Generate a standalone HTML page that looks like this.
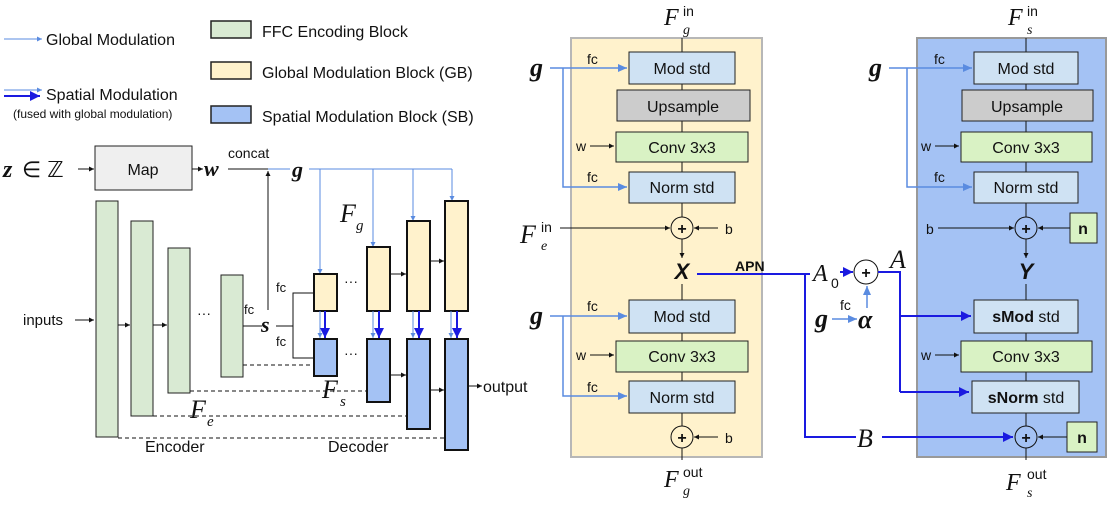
<!DOCTYPE html>
<html><head><meta charset="utf-8"><style>
body{margin:0;background:#fff}
svg{display:block}
text{font-family:"Liberation Sans",sans-serif;fill:#111}
.m{font-family:"Liberation Serif",serif;font-style:italic}
</style></head><body>
<svg width="1109" height="506" viewBox="0 0 1109 506" xmlns="http://www.w3.org/2000/svg">
<defs>
<marker id="ak" markerWidth="6" markerHeight="6" refX="5" refY="3" orient="auto" markerUnits="userSpaceOnUse"><path d="M0,0.5 L5,3 L0,5.5z" fill="#111"/></marker>
<marker id="ab" markerWidth="10" markerHeight="10" refX="9" refY="5" orient="auto" markerUnits="userSpaceOnUse"><path d="M0,1 L9,5 L0,9z" fill="#5a8be0"/></marker>
<marker id="ad" markerWidth="12" markerHeight="12" refX="10" refY="6" orient="auto" markerUnits="userSpaceOnUse"><path d="M0,1 L10,6 L0,11z" fill="#1a1ae0"/></marker>
<marker id="as" markerWidth="6" markerHeight="6" refX="5" refY="3" orient="auto" markerUnits="userSpaceOnUse"><path d="M0,0.5 L5,3 L0,5.5z" fill="#5a8be0"/></marker>
</defs>

<!-- Legend -->
<line x1="4" y1="39" x2="42" y2="39" stroke="#5a8be0" stroke-width="1" marker-end="url(#as)"/>
<text x="46" y="45" font-size="16">Global Modulation</text>
<line x1="4" y1="90" x2="42" y2="90" stroke="#5a8be0" stroke-width="1" marker-end="url(#as)"/>
<line x1="4" y1="96" x2="40" y2="96" stroke="#1a1ae0" stroke-width="2" marker-end="url(#ad)"/>
<text x="46" y="100" font-size="16">Spatial Modulation</text>
<text x="13" y="118" font-size="12">(fused with global modulation)</text>
<rect x="211" y="21" width="40" height="17" fill="#d9ead3" stroke="#222" stroke-width="1.5"/>
<text x="262" y="37" font-size="16">FFC Encoding Block</text>
<rect x="211" y="62" width="40" height="17" fill="#fff2cc" stroke="#222" stroke-width="1.5"/>
<text x="262" y="78" font-size="16">Global Modulation Block (GB)</text>
<rect x="211" y="106" width="40" height="17" fill="#a4c2f4" stroke="#222" stroke-width="1.5"/>
<text x="262" y="122" font-size="16">Spatial Modulation Block (SB)</text>

<!-- Left overview -->
<text x="3" y="177" font-size="24" class="m" font-weight="bold">z</text>
<text x="22" y="177" font-size="22">∈ ℤ</text>
<line x1="78" y1="169" x2="94" y2="169" stroke="#111" marker-end="url(#ak)"/>
<rect x="95" y="146" width="97" height="44" fill="#efefef" stroke="#222"/>
<text x="143" y="175" font-size="16" text-anchor="middle">Map</text>
<line x1="192" y1="169" x2="203" y2="169" stroke="#111" marker-end="url(#ak)"/>
<text x="204" y="176" font-size="22" class="m" font-weight="bold">w</text>
<line x1="228" y1="169" x2="268" y2="169" stroke="#111"/>
<line x1="268" y1="169" x2="290" y2="169" stroke="#5a8be0"/>
<text x="228" y="158" font-size="14">concat</text>
<line x1="268" y1="310" x2="268" y2="171" stroke="#111" marker-end="url(#ak)"/>
<text x="292" y="177" font-size="22" class="m" font-weight="bold">g</text>
<polyline points="309,169 452,169" fill="none" stroke="#5a8be0"/>
<line x1="320" y1="169" x2="320" y2="274" stroke="#5a8be0" marker-end="url(#as)"/>
<line x1="373" y1="169" x2="373" y2="247" stroke="#5a8be0" marker-end="url(#as)"/>
<line x1="413" y1="169" x2="413" y2="221" stroke="#5a8be0" marker-end="url(#as)"/>
<line x1="452" y1="169" x2="452" y2="201" stroke="#5a8be0" marker-end="url(#as)"/>

<g fill="#d9ead3" stroke="#222" stroke-width="1">
<rect x="96" y="201" width="22" height="236"/>
<rect x="131" y="221" width="22" height="195"/>
<rect x="168" y="248" width="22" height="145"/>
<rect x="221" y="275" width="22" height="102"/>
</g>
<text x="23" y="325" font-size="15">inputs</text>
<line x1="75" y1="320" x2="94" y2="320" stroke="#111" marker-end="url(#ak)"/>
<line x1="118" y1="325" x2="130" y2="325" stroke="#111" marker-end="url(#ak)"/>
<line x1="153" y1="325" x2="167" y2="325" stroke="#111" marker-end="url(#ak)"/>
<text x="197" y="318" font-size="14">···</text>
<text x="244" y="314" font-size="13">fc</text>
<line x1="243" y1="326" x2="262" y2="326" stroke="#111"/>
<text x="261" y="332" font-size="22" class="m" font-weight="bold">s</text>
<line x1="276" y1="326" x2="293" y2="326" stroke="#111"/>
<polyline points="314,293 293,293 293,358 314,358" fill="none" stroke="#111"/>
<text x="276" y="292" font-size="13">fc</text>
<text x="276" y="346" font-size="13">fc</text>

<g stroke="#111" stroke-dasharray="4,3" fill="none">
<line x1="243" y1="365" x2="314" y2="365"/>
<line x1="190" y1="391" x2="367" y2="391"/>
<line x1="153" y1="416" x2="407" y2="416"/>
<line x1="118" y1="438" x2="445" y2="438"/>
</g>

<g fill="#fff2cc" stroke="#111" stroke-width="2">
<rect x="314" y="274" width="23" height="37"/>
<rect x="367" y="247" width="23" height="64"/>
<rect x="407" y="221" width="23" height="90"/>
<rect x="445" y="201" width="23" height="110"/>
</g>
<g fill="#a4c2f4" stroke="#111" stroke-width="2">
<rect x="314" y="339" width="23" height="37"/>
<rect x="367" y="339" width="23" height="63"/>
<rect x="407" y="339" width="23" height="90"/>
<rect x="445" y="339" width="23" height="111"/>
</g>
<g>
<line x1="320" y1="311" x2="320" y2="338" stroke="#5a8be0" marker-end="url(#as)"/>
<line x1="325" y1="311" x2="325" y2="338" stroke="#1a1ae0" stroke-width="2" marker-end="url(#ad)"/>
<line x1="373" y1="311" x2="373" y2="338" stroke="#5a8be0" marker-end="url(#as)"/>
<line x1="379" y1="311" x2="379" y2="338" stroke="#1a1ae0" stroke-width="2" marker-end="url(#ad)"/>
<line x1="413" y1="311" x2="413" y2="338" stroke="#5a8be0" marker-end="url(#as)"/>
<line x1="419" y1="311" x2="419" y2="338" stroke="#1a1ae0" stroke-width="2" marker-end="url(#ad)"/>
<line x1="451" y1="311" x2="451" y2="338" stroke="#5a8be0" marker-end="url(#as)"/>
<line x1="457" y1="311" x2="457" y2="338" stroke="#1a1ae0" stroke-width="2" marker-end="url(#ad)"/>
</g>
<text x="344" y="286" font-size="14">···</text>
<text x="344" y="358" font-size="14">···</text>
<line x1="390" y1="274" x2="406" y2="274" stroke="#111" marker-end="url(#ak)"/>
<line x1="430" y1="261" x2="444" y2="261" stroke="#111" marker-end="url(#ak)"/>
<line x1="390" y1="375" x2="406" y2="375" stroke="#111" marker-end="url(#ak)"/>
<line x1="430" y1="390" x2="444" y2="390" stroke="#111" marker-end="url(#ak)"/>
<line x1="468" y1="386" x2="482" y2="386" stroke="#111" marker-end="url(#ak)"/>
<text x="483" y="392" font-size="16">output</text>
<text x="340" y="222" font-size="26" class="m">F</text><text x="356" y="230" font-size="15" class="m">g</text>
<text x="322" y="398" font-size="26" class="m">F</text><text x="340" y="406" font-size="15" class="m">s</text>
<text x="190" y="418" font-size="26" class="m">F</text><text x="207" y="426" font-size="15" class="m">e</text>
<text x="145" y="452" font-size="16">Encoder</text>
<text x="328" y="452" font-size="16">Decoder</text>

<!-- Middle panel GB -->
<rect x="571" y="38" width="191" height="419" fill="#fff2cc" stroke="#b7b7b7" stroke-width="2"/>
<!-- Right panel bg -->
<rect x="917" y="38" width="189" height="419" fill="#a4c2f4" stroke="#999" stroke-width="2"/>

<line x1="682" y1="38" x2="682" y2="460" stroke="#111"/>
<text x="664" y="25" font-size="24" class="m">F</text><text x="683" y="16" font-size="14" font-family="Liberation Serif">in</text><text x="683" y="34" font-size="14" class="m">g</text>
<g stroke="#222" stroke-width="1">
<rect x="629" y="52" width="106" height="32" fill="#cfe2f3"/>
<rect x="617" y="90" width="133" height="31" fill="#cccccc"/>
<rect x="616" y="132" width="132" height="30" fill="#d9f2c4"/>
<rect x="629" y="172" width="106" height="31" fill="#cfe2f3"/>
<rect x="629" y="300" width="106" height="33" fill="#cfe2f3"/>
<rect x="616" y="341" width="132" height="31" fill="#d9f2c4"/>
<rect x="629" y="381" width="106" height="32" fill="#cfe2f3"/>
</g>
<g font-size="16" text-anchor="middle">
<text x="682" y="74">Mod std</text>
<text x="683" y="112">Upsample</text>
<text x="682" y="153">Conv 3x3</text>
<text x="682" y="193">Norm std</text>
<text x="682" y="322">Mod std</text>
<text x="682" y="362">Conv 3x3</text>
<text x="682" y="403">Norm std</text>
</g>
<circle cx="682" cy="228" r="11" fill="#fff2cc" stroke="#111"/>
<text x="682" y="234" font-size="16" font-weight="bold" text-anchor="middle">+</text>
<circle cx="682" cy="437" r="11" fill="#fff2cc" stroke="#111"/>
<text x="682" y="443" font-size="16" font-weight="bold" text-anchor="middle">+</text>
<rect x="672" y="258" width="20" height="26" fill="#fff2cc"/>
<text x="682" y="279" font-size="22" font-weight="bold" font-style="italic" text-anchor="middle">X</text>
<text x="530" y="76" font-size="26" class="m" font-weight="bold">g</text>
<polyline points="550,68 627,68" fill="none" stroke="#5a8be0" stroke-width="1.5" marker-end="url(#ab)"/>
<polyline points="563,68 563,187 627,187" fill="none" stroke="#5a8be0" stroke-width="1.5" marker-end="url(#ab)"/>
<text x="587" y="64" font-size="14">fc</text><text x="587" y="182" font-size="14">fc</text>
<text x="530" y="324" font-size="26" class="m" font-weight="bold">g</text>
<polyline points="550,316 627,316" fill="none" stroke="#5a8be0" stroke-width="1.5" marker-end="url(#ab)"/>
<polyline points="563,316 563,396 627,396" fill="none" stroke="#5a8be0" stroke-width="1.5" marker-end="url(#ab)"/>
<text x="587" y="311" font-size="14">fc</text><text x="587" y="392" font-size="14">fc</text>
<text x="576" y="151" font-size="14">w</text><line x1="590" y1="146" x2="614" y2="146" stroke="#111" marker-end="url(#ak)"/>
<text x="576" y="360" font-size="14">w</text><line x1="590" y1="355" x2="614" y2="355" stroke="#111" marker-end="url(#ak)"/>
<text x="520" y="243" font-size="26" class="m">F</text><text x="541" y="232" font-size="14" font-family="Liberation Serif">in</text><text x="541" y="250" font-size="14" class="m">e</text>
<line x1="560" y1="228" x2="670" y2="228" stroke="#111" marker-end="url(#ak)"/>
<line x1="718" y1="228" x2="694" y2="228" stroke="#111" marker-end="url(#ak)"/>
<text x="725" y="234" font-size="14">b</text>
<line x1="718" y1="437" x2="694" y2="437" stroke="#111" marker-end="url(#ak)"/>
<text x="725" y="443" font-size="14">b</text>
<text x="664" y="487" font-size="24" class="m">F</text><text x="683" y="477" font-size="14" font-family="Liberation Serif">out</text><text x="683" y="495" font-size="14" class="m">g</text>
<line x1="682" y1="239" x2="682" y2="258" stroke="#111" marker-end="url(#ak)"/>

<!-- Right panel contents -->
<line x1="1026" y1="38" x2="1026" y2="460" stroke="#111"/>
<text x="1008" y="25" font-size="24" class="m">F</text><text x="1027" y="16" font-size="14" font-family="Liberation Serif">in</text><text x="1027" y="34" font-size="14" class="m">s</text>
<g stroke="#222" stroke-width="1">
<rect x="974" y="52" width="104" height="32" fill="#cfe2f3"/>
<rect x="962" y="90" width="131" height="31" fill="#cccccc"/>
<rect x="961" y="132" width="131" height="30" fill="#d9f2c4"/>
<rect x="974" y="172" width="104" height="31" fill="#cfe2f3"/>
<rect x="974" y="300" width="104" height="33" fill="#cfe2f3"/>
<rect x="961" y="341" width="131" height="31" fill="#d9f2c4"/>
<rect x="972" y="381" width="107" height="32" fill="#cfe2f3"/>
<rect x="1070" y="213" width="27" height="30" fill="#d9f2c4"/>
<rect x="1067" y="422" width="30" height="30" fill="#d9f2c4"/>
</g>
<g font-size="16" text-anchor="middle">
<text x="1026" y="74">Mod std</text>
<text x="1027" y="112">Upsample</text>
<text x="1026" y="153">Conv 3x3</text>
<text x="1026" y="193">Norm std</text>
<text x="1026" y="322"><tspan font-weight="bold">sMod</tspan> std</text>
<text x="1026" y="362">Conv 3x3</text>
<text x="1026" y="403"><tspan font-weight="bold">sNorm</tspan> std</text>
<text x="1083" y="234" font-weight="bold">n</text>
<text x="1082" y="443" font-weight="bold">n</text>
</g>
<circle cx="1026" cy="228" r="11" fill="#a4c2f4" stroke="#111"/>
<text x="1026" y="234" font-size="16" font-weight="bold" text-anchor="middle">+</text>
<circle cx="1026" cy="437" r="11" fill="#a4c2f4" stroke="#111"/>
<text x="1026" y="443" font-size="16" font-weight="bold" text-anchor="middle">+</text>
<rect x="1016" y="258" width="20" height="26" fill="#a4c2f4"/>
<text x="1026" y="279" font-size="22" font-weight="bold" font-style="italic" text-anchor="middle">Y</text>
<line x1="1026" y1="239" x2="1026" y2="258" stroke="#111" marker-end="url(#ak)"/>
<text x="869" y="76" font-size="26" class="m" font-weight="bold">g</text>
<polyline points="889,68 972,68" fill="none" stroke="#5a8be0" stroke-width="1.5" marker-end="url(#ab)"/>
<polyline points="907,68 907,187 972,187" fill="none" stroke="#5a8be0" stroke-width="1.5" marker-end="url(#ab)"/>
<text x="934" y="64" font-size="14">fc</text><text x="934" y="182" font-size="14">fc</text>
<text x="921" y="151" font-size="14">w</text><line x1="935" y1="146" x2="959" y2="146" stroke="#111" marker-end="url(#ak)"/>
<text x="921" y="360" font-size="14">w</text><line x1="935" y1="355" x2="959" y2="355" stroke="#111" marker-end="url(#ak)"/>
<text x="926" y="234" font-size="14">b</text>
<line x1="938" y1="228" x2="1014" y2="228" stroke="#111" marker-end="url(#ak)"/>
<line x1="1070" y1="228" x2="1038" y2="228" stroke="#111" marker-end="url(#ak)"/>
<line x1="1067" y1="437" x2="1038" y2="437" stroke="#111" marker-end="url(#ak)"/>
<text x="1006" y="490" font-size="24" class="m">F</text><text x="1027" y="479" font-size="14" font-family="Liberation Serif">out</text><text x="1027" y="497" font-size="14" class="m">s</text>

<!-- APN connectors (on top) -->
<text x="735" y="271" font-size="14" font-weight="bold">APN</text>
<polyline points="697,274 810,274" fill="none" stroke="#1a1ae0" stroke-width="2"/>
<polyline points="805,274 805,437 856,437" fill="none" stroke="#1a1ae0" stroke-width="2"/>
<text x="857" y="447" font-size="26" class="m">B</text>
<line x1="882" y1="437" x2="1013" y2="437" stroke="#1a1ae0" stroke-width="2" marker-end="url(#ad)"/>
<text x="813" y="281" font-size="24" class="m">A</text><text x="831" y="288" font-size="14" font-family="Liberation Serif">0</text>
<line x1="840" y1="272" x2="853" y2="272" stroke="#1a1ae0" stroke-width="2" marker-end="url(#ad)"/>
<circle cx="866" cy="272" r="12" fill="#fff" stroke="#111"/>
<text x="866" y="278" font-size="16" font-weight="bold" text-anchor="middle">+</text>
<text x="890" y="268" font-size="26" class="m">A</text>
<polyline points="878,272 900,272 900,392" fill="none" stroke="#1a1ae0" stroke-width="2"/>
<line x1="900" y1="316" x2="971" y2="316" stroke="#1a1ae0" stroke-width="2" marker-end="url(#ad)"/>
<line x1="900" y1="392" x2="969" y2="392" stroke="#1a1ae0" stroke-width="2" marker-end="url(#ad)"/>
<text x="815" y="327" font-size="26" class="m" font-weight="bold">g</text>
<line x1="832" y1="319" x2="857" y2="319" stroke="#5a8be0" stroke-width="1.5" marker-end="url(#ab)"/>
<text x="858" y="328" font-size="26" class="m" font-weight="bold">α</text>
<line x1="867" y1="308" x2="867" y2="286" stroke="#5a8be0" stroke-width="1.5" marker-end="url(#ab)"/>
<text x="840" y="310" font-size="14">fc</text>
</svg>
</body></html>
